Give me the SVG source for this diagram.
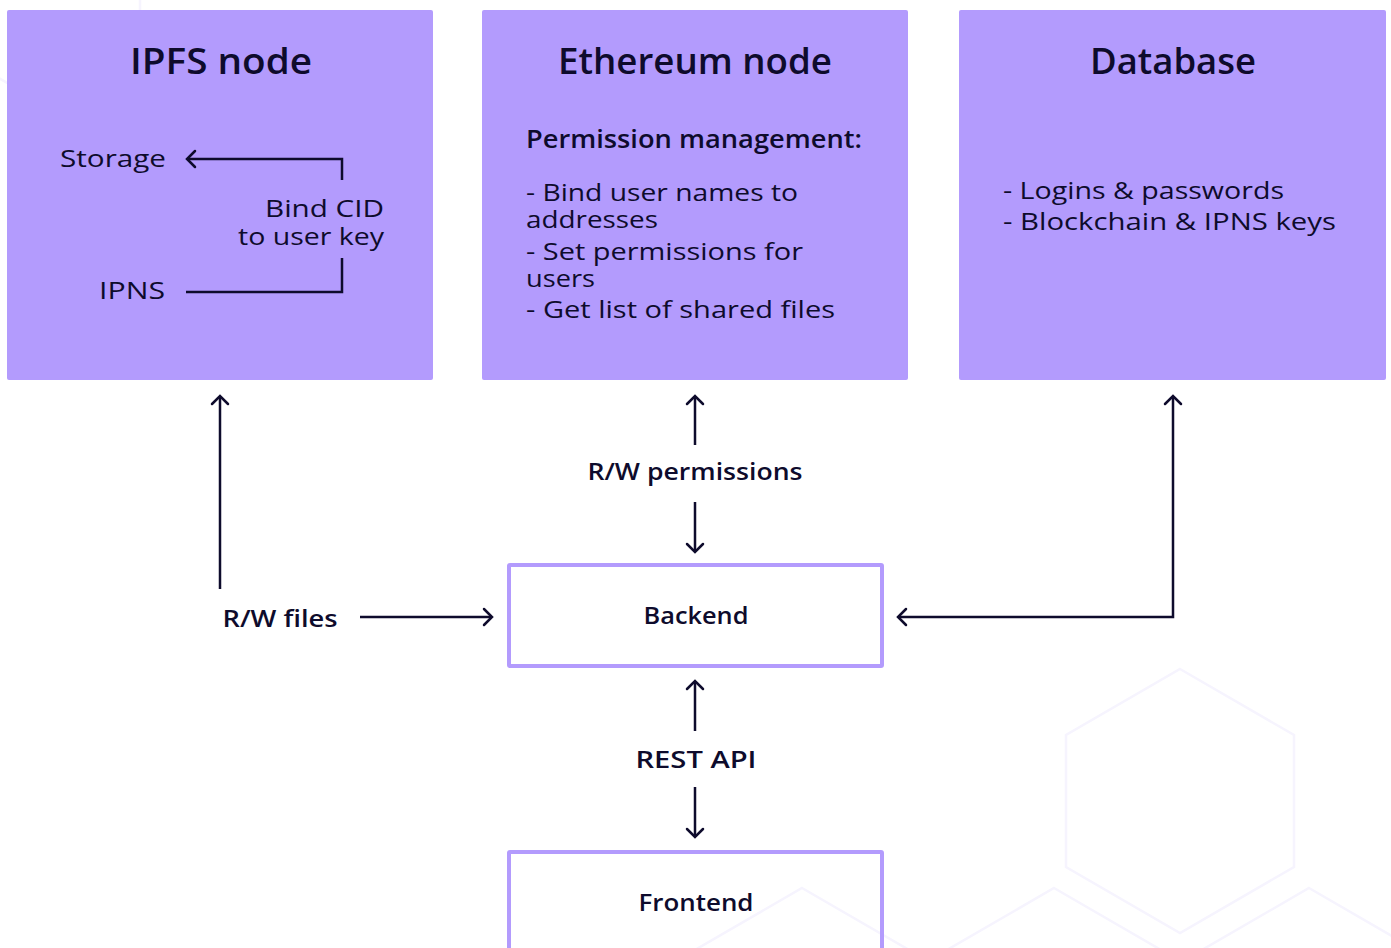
<svg xmlns="http://www.w3.org/2000/svg" width="1391" height="948" viewBox="0 0 1391 948">
<style>
.bg{fill:#ffffff}
.hex{fill:none;stroke:#F6F4FE;stroke-width:2.5}
.card{fill:#B39BFD}
.box{fill:none;stroke:#B39BFD;stroke-width:4}
text{font-family:"Open Sans","Liberation Sans",sans-serif;fill:#0E0B2C}
.title{font-size:36px;font-weight:600;text-anchor:middle}
.body{font-size:24px;font-weight:400}
.sub{font-size:25px;font-weight:600}
.lbl{font-size:23px;font-weight:600;text-anchor:middle}
.edge{fill:none;stroke:#0E0B2C;stroke-width:2.5}
</style>
<defs>
<marker id="arr" viewBox="-10 -10 12 20" markerWidth="12" markerHeight="20" refX="0" refY="0" orient="auto-start-reverse" markerUnits="userSpaceOnUse">
<path d="M-8,-8 L0,0 L-8,8" fill="none" stroke="#0E0B2C" stroke-width="2.5" stroke-linecap="round" stroke-linejoin="miter"/>
</marker>
</defs>
<rect class="bg" x="0" y="0" width="1391" height="948"/>
<g id="background">
<polygon class="hex" points="28,-165 140,-100 140,30 28,95 -84,30 -84,-100"/>
<polygon class="hex" points="1180,669 1294,735 1294,867 1180,933 1066,867 1066,735"/>
<polygon class="hex" points="802,888 916,954 916,1086 802,1152 688,1086 688,954"/>
<polygon class="hex" points="1054,888 1168,954 1168,1086 1054,1152 940,1086 940,954"/>
<polygon class="hex" points="1309,888 1423,954 1423,1086 1309,1152 1195,1086 1195,954"/>
</g>
<g id="ipfs">
<rect class="card" x="7" y="10" width="426" height="370" rx="2"/>
<text class="title" x="221" y="74" textLength="182" lengthAdjust="spacingAndGlyphs">IPFS node</text>
<text class="body" x="60" y="167" textLength="106" lengthAdjust="spacingAndGlyphs">Storage</text>
<text class="body" x="265" y="217" textLength="119" lengthAdjust="spacingAndGlyphs">Bind CID</text>
<text class="body" x="238" y="245" textLength="146" lengthAdjust="spacingAndGlyphs">to user key</text>
<text class="body" x="99" y="299" textLength="66" lengthAdjust="spacingAndGlyphs">IPNS</text>
<path class="edge" d="M342,180 V159 H187" marker-end="url(#arr)"/>
<path class="edge" d="M342,258 V292 H186"/>
</g>
<g id="ethereum">
<rect class="card" x="482" y="10" width="426" height="370" rx="2"/>
<text class="title" x="695" y="74" textLength="274" lengthAdjust="spacingAndGlyphs">Ethereum node</text>
<text class="sub" x="526" y="148" textLength="336" lengthAdjust="spacingAndGlyphs">Permission management:</text>
<text class="body" x="526" y="201" textLength="272" lengthAdjust="spacingAndGlyphs">- Bind user names to</text>
<text class="body" x="526" y="228" textLength="132" lengthAdjust="spacingAndGlyphs">addresses</text>
<text class="body" x="526" y="260" textLength="277" lengthAdjust="spacingAndGlyphs">- Set permissions for</text>
<text class="body" x="526" y="287" textLength="69" lengthAdjust="spacingAndGlyphs">users</text>
<text class="body" x="526" y="318" textLength="309" lengthAdjust="spacingAndGlyphs">- Get list of shared files</text>
</g>
<g id="database">
<rect class="card" x="959" y="10" width="427" height="370" rx="2"/>
<text class="title" x="1173" y="74" textLength="166" lengthAdjust="spacingAndGlyphs">Database</text>
<text class="body" x="1003" y="199" textLength="281" lengthAdjust="spacingAndGlyphs">- Logins &amp; passwords</text>
<text class="body" x="1003" y="230" textLength="333" lengthAdjust="spacingAndGlyphs">- Blockchain &amp; IPNS keys</text>
</g>
<g id="backend">
<rect class="box" x="509" y="565" width="373" height="101" rx="1"/>
<text class="lbl" x="696" y="624" textLength="105" lengthAdjust="spacingAndGlyphs">Backend</text>
</g>
<g id="frontend">
<rect class="box" x="509" y="852" width="373" height="140" rx="1"/>
<text class="lbl" x="696" y="911" textLength="115" lengthAdjust="spacingAndGlyphs">Frontend</text>
</g>
<g id="connectors">
<path class="edge" d="M220,589 V396" marker-end="url(#arr)"/>
<text class="lbl" x="280" y="627" textLength="115" lengthAdjust="spacingAndGlyphs">R/W files</text>
<path class="edge" d="M360,617 H492" marker-end="url(#arr)"/>
<path class="edge" d="M695,445 V396" marker-end="url(#arr)"/>
<text class="lbl" x="695" y="480" textLength="215" lengthAdjust="spacingAndGlyphs">R/W permissions</text>
<path class="edge" d="M695,502 V552" marker-end="url(#arr)"/>
<path class="edge" d="M898,617 H1173 V396" marker-start="url(#arr)" marker-end="url(#arr)"/>
<path class="edge" d="M695,731 V681" marker-end="url(#arr)"/>
<text class="lbl" x="696" y="768" textLength="121" lengthAdjust="spacingAndGlyphs">REST API</text>
<path class="edge" d="M695,787 V837" marker-end="url(#arr)"/>
</g>
</svg>
